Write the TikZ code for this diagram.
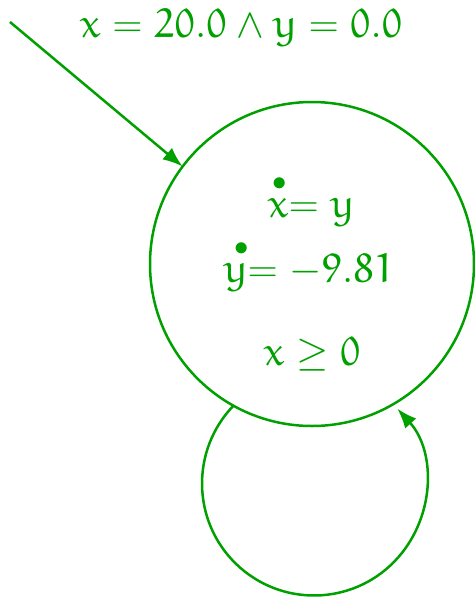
\documentclass[tikz,border=0pt]{standalone}
\usepackage{amsmath}
\usetikzlibrary{arrows.meta}
\DeclareFontFamily{U}{myeur}{\skewchar\font'177}
\DeclareFontShape{U}{myeur}{m}{n}{<-> eurm10}{}
\DeclareSymbolFont{eul}{U}{myeur}{m}{n}
\DeclareMathSymbol{x}{\mathalpha}{eul}{`x}
\DeclareMathSymbol{y}{\mathalpha}{eul}{`y}
\DeclareMathSymbol{0}{\mathalpha}{eul}{"30}
\DeclareMathSymbol{1}{\mathalpha}{eul}{"31}
\DeclareMathSymbol{2}{\mathalpha}{eul}{"32}
\DeclareMathSymbol{8}{\mathalpha}{eul}{"38}
\DeclareMathSymbol{9}{\mathalpha}{eul}{"39}
\newcommand\tdot[2][0pt]{\overset{\raisebox{-0.5pt}{\kern#1$\scriptstyle\bullet$\kern-#1}}{#2}}
\definecolor{hg}{RGB}{0,160,0}
\begin{document}
\begin{tikzpicture}[x=0.5pt,y=-0.5pt,
  every node/.style={text=hg,font=\fontsize{20.5}{24}\selectfont},
  lbl/.style={anchor=base,inner sep=0pt},
  edgeline/.style={draw=hg,line width=1.25pt},
  tip/.style={-{Latex[length=10pt,width=7.5pt]}}]
\useasboundingbox (0,0) rectangle (475,600);
\node[circle,draw=hg,line width=1.25pt,minimum size=162pt,inner sep=0pt,outer sep=0pt] (s) at (312,264) {};
\node[lbl] (init) at (241,37) {$x = 20.0 \wedge y = 0.0$};
\node[lbl] (f1) at (311,217) {$\tdot[1pt]{x}\mkern-5mu= y$};
\node[lbl] (f2) at (309,282) {$\tdot[3pt]{y}\mkern-5mu= -9.81$};
\node[lbl] (inv) at (312,365) {$x \geq 0$};
\coordinate (start) at (10,22);
\draw[edgeline,tip] (start) -- (s.143);
\draw[edgeline,tip] (s.241) arc[start angle=224,end angle=-42,radius=112];
\end{tikzpicture}
\end{document}
